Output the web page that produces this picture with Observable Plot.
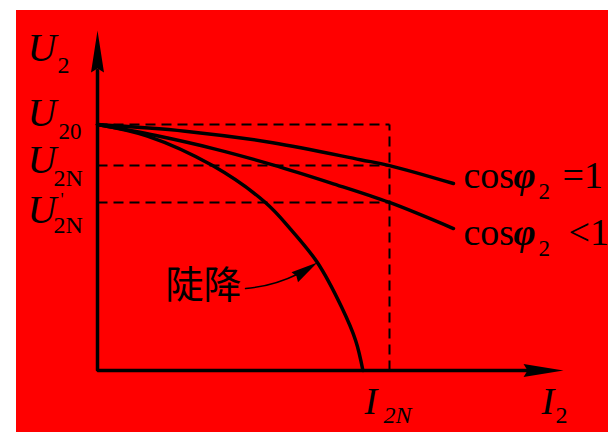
<!DOCTYPE html>
<html>
<head>
<meta charset="utf-8">
<script src="https://cdn.jsdelivr.net/npm/d3@7"></script>
<script src="https://cdn.jsdelivr.net/npm/@observablehq/plot@0.6"></script>
<style>
  html, body { margin: 0; padding: 0; background: #ffffff; }
  #chart { position: absolute; left: 16px; top: 10px; width: 592px; height: 422px; background: #ff0000; overflow: hidden; }
</style>
</head>
<body>
<div id="chart"></div>
<script>
// Transformer external characteristic: secondary voltage U2 against load current I2
// (current in units of the rated current I2N, voltage in units of the no-load voltage U20)
const U20 = 1.0, U2N = 0.833, U2Nprime = 0.683, I2N = 1.0;
const axisTipI = 1.596, axisTipU = 1.382;   // ends of the two axis arrows
const axisBaseI = 1.47, axisBaseU = 1.22;   // where the axis shafts meet the arrowheads

// cos φ2 = 1 (resistive load)
const unityI = [0, 0.3, 0.6, 0.9, 1.0, 1.219];
const unityU = [1.0, 0.973, 0.926, 0.857, 0.833, 0.760];
// cos φ2 < 1 (inductive load)
const laggingI = [0, 0.2, 0.4, 0.6, 0.8, 1.0, 1.219];
const laggingU = [1.0, 0.955, 0.901, 0.836, 0.762, 0.683, 0.577];
// steeply falling characteristic (陡降)
const steepI = [0, 0.171, 0.394, 0.575, 0.661, 0.753, 0.835, 0.884, 0.909];
const steepU = [1.0, 0.953, 0.833, 0.683, 0.575, 0.439, 0.26, 0.122, 0];

// annotation arrow: from the end of the 陡降 label to a point on the steep curve
const noteFrom = [0.507, 0.333];
const noteTo = [0.753, 0.439];

const series = (I, U) => I.map((x, i) => ({I: x, U: U[i]}));
const unity = series(unityI, unityU);
const lagging = series(laggingI, laggingU);
const steep = series(steepI, steepU);

const axes = series([0, 0, axisBaseI], [axisBaseU, 0, 0]);
const guides = [
  {x1: 0, y1: U20, x2: I2N, y2: U20},
  {x1: 0, y1: U2N, x2: I2N, y2: U2N},
  {x1: 0, y1: U2Nprime, x2: I2N, y2: U2Nprime},
  {x1: I2N, y1: 0, x2: I2N, y2: U20}
];

// filled arrowhead symbol pointing along angleDeg, tip at the dot's position
function arrowHead(length, halfWidth, notch, angleDeg) {
  const a = angleDeg * Math.PI / 180, c = Math.cos(a), s = Math.sin(a);
  const pts = [[0, 0], [-length, -halfWidth], [-length + notch, 0], [-length, halfWidth]];
  return {
    draw(ctx) {
      pts.forEach(([x, y], i) => {
        const px = x * c - y * s, py = x * s + y * c;
        if (i) ctx.lineTo(px, py); else ctx.moveTo(px, py);
      });
      ctx.closePath();
    }
  };
}

const serif = "'Liberation Serif', 'DejaVu Serif', serif";
function label(x, y, text, {dx = 0, dy = 0, size = 40, italic = false, bold = false, anchor = "start", font = serif} = {}) {
  return Plot.text([{I: x, U: y}], {
    x: "I", y: "U", text: () => text,
    dx, dy, fontSize: size, fontFamily: font,
    fontStyle: italic ? "italic" : "normal",
    fontWeight: bold ? "bold" : "normal",
    textAnchor: anchor, lineAnchor: "bottom", fill: "#000"
  });
}

const chart = Plot.plot({
  width: 592,
  height: 422,
  margin: 0,
  style: {background: "#ff0000", overflow: "visible"},
  x: {domain: [0, 1], range: [81, 373], axis: null},
  y: {domain: [0, 1], range: [360, 114], axis: null},
  marks: [
    // rated-point guides
    Plot.link(guides, {x1: "x1", y1: "y1", x2: "x2", y2: "y2", stroke: "#000", strokeWidth: 2, strokeDasharray: "10,6"}),
    // axes
    Plot.line(axes, {x: "I", y: "U", stroke: "#000", strokeWidth: 3.5, strokeLinejoin: "miter"}),
    Plot.dot([{I: 0, U: axisTipU}], {x: "I", y: "U", symbol: arrowHead(42, 6.5, 4, -90), fill: "#000", stroke: "none"}),
    Plot.dot([{I: axisTipI, U: 0}], {x: "I", y: "U", symbol: arrowHead(40, 6.5, 4, 0), fill: "#000", stroke: "none"}),
    // characteristics
    Plot.line(unity, {x: "I", y: "U", stroke: "#000", strokeWidth: 3.5, curve: "catmull-rom"}),
    Plot.line(lagging, {x: "I", y: "U", stroke: "#000", strokeWidth: 3.5, curve: "catmull-rom"}),
    Plot.line(steep, {x: "I", y: "U", stroke: "#000", strokeWidth: 3.5, curve: "catmull-rom"}),
    // annotation arrow
    Plot.arrow([{x1: noteFrom[0], y1: noteFrom[1], x2: noteTo[0], y2: noteTo[1]}], {
      x1: "x1", y1: "y1", x2: "x2", y2: "y2", bend: -15, headLength: 0, insetEnd: 22,
      stroke: "#000", strokeWidth: 1.5
    }),
    Plot.dot([{I: noteTo[0], U: noteTo[1]}], {x: "I", y: "U", symbol: arrowHead(27, 6, 2, -33), fill: "#000", stroke: "none"}),
    label(noteFrom[0], noteFrom[1], "陡降", {dx: -4, dy: 9, size: 38, anchor: "end", font: "'Noto Sans CJK SC', sans-serif"}),

    // axis titles
    label(0, axisTipU, "U", {dx: -70, dy: 30, italic: true}),
    label(0, axisTipU, "2", {dx: -40, dy: 42, size: 24}),
    label(axisTipI, 0, "I", {dx: -22, dy: 43, size: 38, italic: true}),
    label(axisTipI, 0, "2", {dx: -8, dy: 52, size: 24}),

    // voltage levels
    label(0, U20, "U", {dx: -70, dy: 1, italic: true}),
    label(0, U20, "20", {dx: -39, dy: 14, size: 23}),
    label(0, U2N, "U", {dx: -70, dy: 7, italic: true}),
    label(0, U2N, "2N", {dx: -44, dy: 20, size: 24}),
    label(0, U2Nprime, "U", {dx: -70, dy: 21, italic: true}),
    label(0, U2Nprime, "'", {dx: -37, dy: 4, size: 18}),
    label(0, U2Nprime, "2N", {dx: -44, dy: 31, size: 24}),

    // rated current
    label(I2N, 0, "I", {dx: -25, dy: 43, size: 38, italic: true}),
    label(I2N, 0, "2N", {dx: -6, dy: 52, size: 24, italic: true}),

    // power factor labels at the curve ends
    label(unityI[unityI.length - 1], unityU[unityU.length - 1], "cos", {dx: 10, dy: 4, size: 38}),
    label(unityI[unityI.length - 1], unityU[unityU.length - 1], "φ", {dx: 60, dy: 4, size: 38, italic: true, bold: true}),
    label(unityI[unityI.length - 1], unityU[unityU.length - 1], "2", {dx: 85, dy: 15, size: 23}),
    label(unityI[unityI.length - 1], unityU[unityU.length - 1], "=1", {dx: 109, dy: 4, size: 38}),
    label(laggingI[laggingI.length - 1], laggingU[laggingU.length - 1], "cos", {dx: 10, dy: 16, size: 38}),
    label(laggingI[laggingI.length - 1], laggingU[laggingU.length - 1], "φ", {dx: 60, dy: 16, size: 38, italic: true, bold: true}),
    label(laggingI[laggingI.length - 1], laggingU[laggingU.length - 1], "2", {dx: 85, dy: 27, size: 23}),
    label(laggingI[laggingI.length - 1], laggingU[laggingU.length - 1], "<1", {dx: 115, dy: 16, size: 38})
  ]
});
document.getElementById("chart").appendChild(chart);
</script>
</body>
</html>
